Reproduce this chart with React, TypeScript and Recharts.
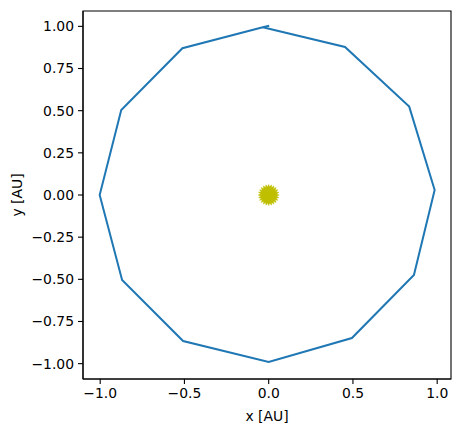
import React from 'react';
import { ScatterChart, Scatter, XAxis, YAxis, ReferenceArea, Label } from 'recharts';

const orbitX = [0.003, -0.035, -0.512, -0.875, -1.003, -0.87, -0.508, 0.0, 0.494, 0.862, 0.985, 0.834, 0.453, -0.035];
const orbitY = [1.004, 0.995, 0.870, 0.504, 0.0, -0.504, -0.866, -0.99, -0.848, -0.474, 0.03, 0.524, 0.878, 0.995];
const sunX = [0];
const sunY = [0];
const xTicks = [-1, -0.5, 0, 0.5, 1];
const yTicks = [-1, -0.75, -0.5, -0.25, 0, 0.25, 0.5, 0.75, 1];
const xDomain = [-1.102, 1.082];
const yDomain = [-1.091, 1.091];

const orbit = orbitX.map((x, i) => ({ x, y: orbitY[i] }));
const sun = sunX.map((x, i) => ({ x, y: sunY[i] }));

const fmt = (v: number, d: number) => {
  const s = Math.abs(v).toFixed(d);
  return v < 0 ? '\u2212' + s : s;
};

const SunShape = (props: any) => {
  const { cx, cy } = props;
  const n = 24;
  const ro = 10.5;
  const ri = 8;
  const pts: string[] = [];
  for (let i = 0; i < 2 * n; i++) {
    const a = (Math.PI * i) / n;
    const r = i % 2 === 0 ? ro : ri;
    pts.push(`${cx + r * Math.sin(a)},${cy - r * Math.cos(a)}`);
  }
  return <polygon points={pts.join(' ')} fill="#bfbf00" stroke="#bfbf00" strokeWidth={0.5} />;
};

const font = { fontFamily: 'DejaVu Sans', fontSize: 13.9, fill: '#000' };

export default function App() {
  return (
    <div style={{ position: 'absolute', left: 0, top: 0, background: '#fff' }}>
      <ScatterChart width={461} height={433} margin={{ top: 11, right: 10, bottom: 0, left: 0 }}>
        <XAxis
          type="number"
          dataKey="x"
          domain={xDomain}
          allowDataOverflow
          ticks={xTicks}
          tickFormatter={(v: number) => fmt(v, 1)}
          tick={font}
          tickSize={5}
          tickMargin={4}
          height={54}
          stroke="#000"
          axisLine={{ stroke: '#000', strokeWidth: 1.1 }}
          tickLine={{ stroke: '#000', strokeWidth: 1.1 }}
        >
          <Label value="x [AU]" position="insideBottom" offset={12} style={font} />
        </XAxis>
        <YAxis
          type="number"
          dataKey="y"
          domain={yDomain}
          allowDataOverflow
          ticks={yTicks}
          tickFormatter={(v: number) => fmt(v, 2)}
          tick={font}
          tickSize={5}
          tickMargin={4}
          width={83}
          stroke="#000"
          axisLine={{ stroke: '#000', strokeWidth: 1.1 }}
          tickLine={{ stroke: '#000', strokeWidth: 1.1 }}
        >
          <Label value="y [AU]" angle={-90} position="insideLeft" offset={17} style={{ ...font, textAnchor: 'middle' }} />
        </YAxis>
        <ReferenceArea x1={xDomain[0]} x2={xDomain[1]} y1={yDomain[0]} y2={yDomain[1]} fill="none" stroke="#000" strokeWidth={1.1} fillOpacity={0} />
        <Scatter
          data={orbit}
          line={{ stroke: '#1f77b4', strokeWidth: 2 }}
          lineJointType="linear"
          shape={() => <g />}
          isAnimationActive={false}
        />
        <Scatter data={sun} shape={SunShape} isAnimationActive={false} />
      </ScatterChart>
    </div>
  );
}
